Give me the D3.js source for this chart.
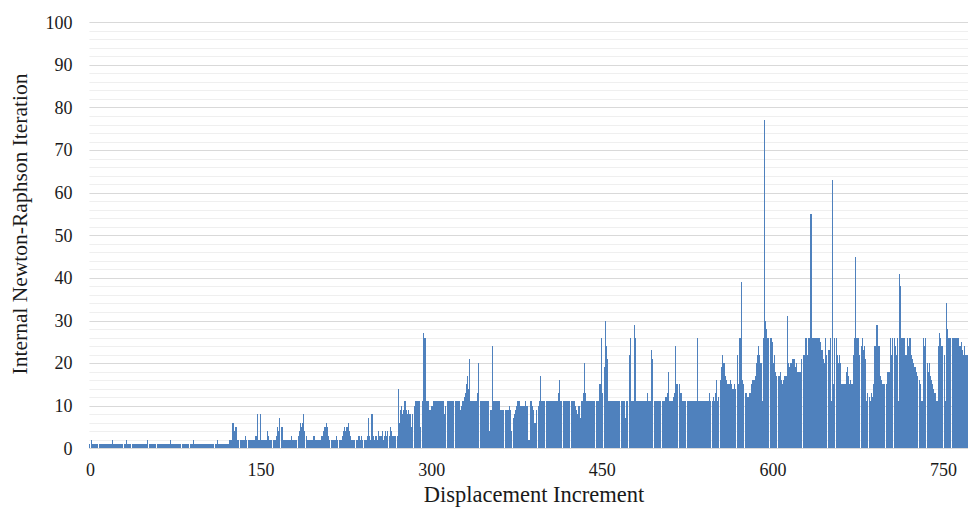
<!DOCTYPE html>
<html>
<head>
<meta charset="utf-8">
<script src="https://cdn.jsdelivr.net/npm/d3@7"></script>
<style>
  body { margin: 0; background: #fff; }
  svg { display: block; }
  svg text { font-family: "Liberation Serif", "Times New Roman", serif; fill: #1a1a1a; }
</style>
</head>
<body>
<svg id="chart" width="968" height="507"></svg>
<script>
// iterations per displacement increment (index = increment)
const iterations = [
  1,2,1,1,1,1,1,1,1,1,1,1,1,1,1,1,1,1,1,1,        // 0
  2,1,1,1,1,1,1,1,1,1,1,1,2,1,1,1,1,1,1,1,        // 20
  1,1,1,1,1,1,1,1,1,1,1,2,1,1,1,1,1,1,1,1,        // 40
  1,1,1,1,1,1,1,1,1,1,1,2,1,1,1,1,1,1,1,1,        // 60
  1,1,1,1,1,1,1,1,1,1,1,2,1,1,1,1,1,1,1,1,        // 80
  1,1,1,1,1,1,1,1,1,1,1,1,2,1,1,1,1,1,1,1,        // 100
  1,1,1,2,2,6,6,4,5,5,2,2,2,2,2,2,2,3,2,2,        // 120
  2,2,2,2,2,2,3,8,2,2,8,2,2,2,2,2,4,3,2,2,        // 140
  2,2,2,2,3,5,4,7,5,5,2,2,2,2,2,2,2,3,2,2,        // 160
  2,2,2,3,4,6,5,6,8,4,3,2,2,2,2,2,2,3,2,2,        // 180
  2,2,2,2,3,4,5,5,6,5,3,2,2,2,2,2,2,3,2,2,        // 200
  2,2,3,4,5,4,5,6,4,3,2,2,2,2,2,2,3,3,2,3,        // 220
  2,2,2,2,3,7,3,2,8,3,2,3,3,2,4,3,3,4,2,3,        // 240
  4,3,4,3,5,4,3,3,3,3,3,14,6,9,10,8,9,11,9,8,     // 260
  9,8,8,5,8,10,11,11,11,11,11,5,11,27,26,26,11,11,11,9,   // 280
  10,10,11,11,11,11,11,11,11,11,11,11,8,10,11,11,11,11,11,11, // 300
  11,11,11,11,11,11,9,10,11,12,13,15,17,14,21,11,11,11,11,11, // 320
  11,13,20,11,11,11,11,11,11,11,11,4,9,9,24,11,11,11,11,11,   // 340
  11,9,9,9,9,9,9,9,9,10,9,4,7,8,9,10,11,11,11,10,             // 360
  10,10,10,11,10,10,2,11,11,10,9,6,6,9,10,11,17,11,11,11,     // 380
  11,11,11,11,11,11,11,11,11,11,11,11,13,16,11,11,11,11,11,11, // 400
  11,11,11,11,11,11,11,10,9,8,10,7,11,11,13,20,13,11,11,11,   // 420
  11,11,11,11,11,11,11,11,15,15,26,13,19,30,24,21,11,11,11,11, // 440
  11,11,11,11,11,11,11,11,11,11,11,7,11,11,22,26,11,11,11,29, // 460
  26,11,11,11,11,11,11,11,11,11,13,11,11,11,23,21,11,11,11,11, // 480
  11,11,11,11,11,11,12,12,13,18,11,11,11,12,13,24,15,15,15,13, // 500
  13,11,11,11,11,11,11,11,11,11,11,11,11,11,26,11,11,11,11,11, // 520
  11,11,11,11,11,13,11,11,12,11,13,16,11,12,16,19,22,20,20,17, // 540
  16,15,15,16,15,14,14,15,14,22,15,26,26,39,16,15,13,13,12,12, // 560
  13,13,15,16,16,17,20,22,24,22,20,11,26,77,30,28,26,26,26,26, // 580
  25,20,22,18,17,17,17,18,16,15,16,17,17,31,20,19,20,20,21,21, // 600
  19,20,18,18,18,18,21,22,22,26,26,22,26,26,55,26,26,26,26,26, // 620
  26,26,25,23,23,21,20,26,22,23,23,26,11,63,15,26,26,22,20,22, // 640
  20,15,15,15,15,18,19,17,15,16,15,22,26,45,26,26,26,22,24,26, // 660
  23,24,21,11,13,12,11,13,12,15,24,24,29,24,24,17,16,15,15,15, // 680
  15,18,18,18,26,22,26,26,24,22,26,11,41,38,26,26,26,22,22,26, // 700
  24,26,22,21,20,19,19,18,17,16,15,11,11,26,24,26,20,18,20,17, // 720
  16,15,14,13,11,11,24,27,26,24,24,22,11,34,28,26,26,26,26,26, // 740
  26,26,26,26,26,24,25,23,22,24,22,22,22                      // 760
];

const xTickValues = [0, 150, 300, 450, 600, 750];
const yTickValues = [0, 10, 20, 30, 40, 50, 60, 70, 80, 90, 100];

const xTitle = 'Displacement Increment';
const yTitle = 'Internal Newton-Raphson Iteration';

const width = 968,
    height = 507;
const plot = { left: 89.43, top: 22.3, bottom: 448.3 };
const step = 853 / 750;   // px per increment

const svg = d3.select('#chart');

svg.append('rect')
    .attr('width', width)
    .attr('height', height)
    .attr('fill', '#fff');

const x = d3.scaleLinear()
    .domain([-0.5, iterations.length - 0.5])
    .range([plot.left, plot.left + iterations.length * step]);

const y = d3.scaleLinear()
    .domain([0, 100])
    .range([plot.bottom, plot.top]);

// minor gridlines every 2
svg.append('g')
  .selectAll('line')
  .data(y.ticks(50).filter(d => d % 10 !== 0))
  .join('line')
    .attr('x1', plot.left)
    .attr('x2', width)
    .attr('y1', d => Math.round(y(d)) + 0.5)
    .attr('y2', d => Math.round(y(d)) + 0.5)
    .attr('stroke', '#efefef')
    .attr('stroke-width', 1);

// major gridlines every 10
svg.append('g')
  .selectAll('line')
  .data(yTickValues)
  .join('line')
    .attr('x1', plot.left)
    .attr('x2', width)
    .attr('y1', d => Math.round(y(d)) + 0.5)
    .attr('y2', d => Math.round(y(d)) + 0.5)
    .attr('stroke', '#d9d9d9')
    .attr('stroke-width', 1.2);

// bars - slightly narrower than the step so thin gaps show up now and then
svg.append('g')
    .attr('shape-rendering', 'crispEdges')
  .selectAll('rect')
  .data(iterations)
  .join('rect')
    .attr('x', (d, i) => x(i - 0.5))
    .attr('width', step * 0.935)
    .attr('y', d => y(d))
    .attr('height', d => y(0) - y(d))
    .attr('fill', '#4f81bd');

// baseline
svg.append('line')
    .attr('x1', plot.left)
    .attr('x2', width)
    .attr('y1', Math.round(y(0)) + 0.5)
    .attr('y2', Math.round(y(0)) + 0.5)
    .attr('stroke', '#d9d9d9')
    .attr('stroke-width', 1.2);

// axes
const xAxis = svg.append('g')
    .attr('transform', `translate(0,${plot.bottom})`)
    .call(d3.axisBottom(x).tickValues(xTickValues).tickSize(0).tickPadding(15));
xAxis.select('.domain').remove();
xAxis.selectAll('text')
    .attr('font-size', 18)
    .attr('font-family', '"Liberation Serif", "Times New Roman", serif');

const yAxis = svg.append('g')
    .attr('transform', `translate(${plot.left},0)`)
    .call(d3.axisLeft(y).tickValues(yTickValues).tickSize(0).tickPadding(17));
yAxis.select('.domain').remove();
yAxis.selectAll('text')
    .attr('font-size', 18)
    .attr('font-family', '"Liberation Serif", "Times New Roman", serif');

// titles
svg.append('text')
    .attr('x', 534)
    .attr('y', 502)
    .attr('text-anchor', 'middle')
    .attr('font-size', 22.5)
    .text(xTitle);

svg.append('text')
    .attr('transform', 'translate(27,224) rotate(-90)')
    .attr('text-anchor', 'middle')
    .attr('font-size', 21.5)
    .text(yTitle);
</script>
</body>
</html>
